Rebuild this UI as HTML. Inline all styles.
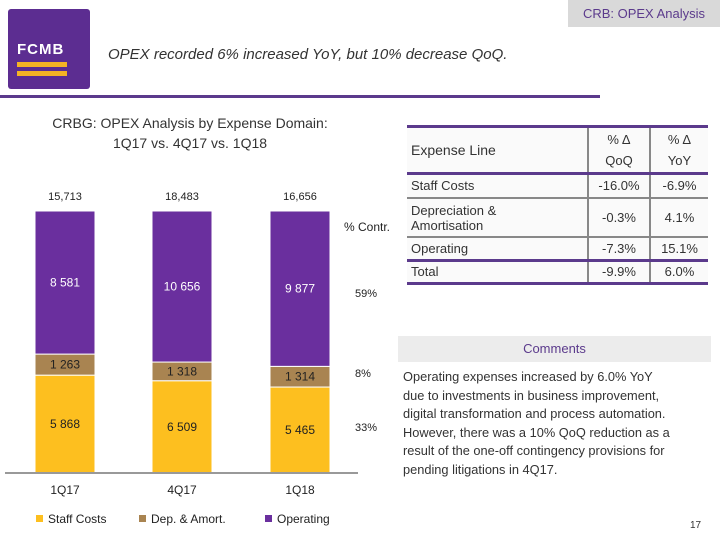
<!DOCTYPE html>
<html><head><meta charset="utf-8"><style>
body{margin:0;width:720px;height:540px;background:#fff;font-family:"Liberation Sans",sans-serif;position:relative;overflow:hidden}
.a{position:absolute}
td{font-size:13px;color:#333;padding:0 4px}
</style></head><body>
<div class="a" style="left:568px;top:0;width:152px;height:27px;background:#d9d9d9;color:#5b3a8c;font-size:13px;line-height:27px;text-align:center">CRB: OPEX Analysis</div>
<div class="a" style="left:8px;top:9px;width:82px;height:80px;background:#5c2d91;border-radius:3px">
 <div class="a" style="left:9px;top:32px;color:#fff;font-weight:bold;font-size:15px;letter-spacing:1px">FCMB</div>
 <div class="a" style="left:9px;top:53px;width:50px;height:5px;background:#f5b324"></div>
 <div class="a" style="left:9px;top:62px;width:50px;height:5px;background:#f5b324"></div>
</div>
<div class="a" style="left:108px;top:46px;font-size:15px;font-style:italic;color:#333">OPEX recorded 6% increased YoY, but 10% decrease QoQ.</div>
<div class="a" style="left:0;top:95px;width:600px;height:3px;background:#5b3a8c"></div>
<div class="a" style="left:20px;top:113px;width:340px;text-align:center;font-size:14px;line-height:20px;color:#333">CRBG:  OPEX Analysis by Expense Domain:<br>1Q17 vs. 4Q17 vs. 1Q18</div>
<svg class="a" style="left:0;top:0" width="720" height="540" id="chart"></svg>
<div class="a" style="left:407px;top:125px;width:301px;height:3px;background:#5b3a8c"></div>
<table class="a" style="left:407px;top:128px;width:301px;border-collapse:collapse;background:#fafafa">
<tr style="height:22px"><td rowspan="2" style="font-size:14px;width:172px">Expense Line</td><td style="border-left:2px solid #888;text-align:center;width:52px">% Δ</td><td style="border-left:2px solid #888;text-align:center">% Δ</td></tr>
<tr style="height:23px"><td style="border-left:2px solid #888;text-align:center">QoQ</td><td style="border-left:2px solid #888;text-align:center">YoY</td></tr>
<tr style="height:25px;border-top:3px solid #5b3a8c"><td>Staff Costs</td><td style="border-left:2px solid #888;text-align:center">-16.0%</td><td style="border-left:2px solid #888;text-align:center">-6.9%</td></tr>
<tr style="height:39px;border-top:2px solid #888"><td>Depreciation &amp;<br>Amortisation</td><td style="border-left:2px solid #888;text-align:center">-0.3%</td><td style="border-left:2px solid #888;text-align:center">4.1%</td></tr>
<tr style="height:23px;border-top:2px solid #888"><td>Operating</td><td style="border-left:2px solid #888;text-align:center">-7.3%</td><td style="border-left:2px solid #888;text-align:center">15.1%</td></tr>
<tr style="height:23px;border-top:3px solid #5b3a8c;border-bottom:3px solid #5b3a8c"><td>Total</td><td style="border-left:2px solid #888;text-align:center">-9.9%</td><td style="border-left:2px solid #888;text-align:center">6.0%</td></tr>
</table>
<div class="a" style="left:398px;top:336px;width:313px;height:26px;background:#ececec;color:#5b3a8c;font-size:13px;line-height:26px;text-align:center">Comments</div>
<div class="a" style="left:403px;top:368px;width:310px;font-size:12.8px;line-height:18.5px;color:#333;white-space:nowrap">Operating expenses increased by 6.0% YoY<br>due to investments in business improvement,<br>digital transformation and process automation.<br>However, there was a 10% QoQ reduction as a<br>result of the one-off contingency provisions for<br>pending litigations in 4Q17.</div>
<div class="a" style="left:690px;top:520px;font-size:10px;color:#333">17</div>
<script>
const categories=["1Q17","4Q17","1Q18"];
const staff=[5868,6509,5465];
const dep=[1263,1318,1314];
const operating=[8581,10656,9877];
const totals=["15,713","18,483","16,656"];
const contr=["33%","8%","59%"];
const svg=document.getElementById('chart');const NS="http://www.w3.org/2000/svg";
const x0=[35,152,270],bw=60,base=473,topY=211,H=base-topY;
function el(t,a,txt){const e=document.createElementNS(NS,t);for(const k in a)e.setAttribute(k,a[k]);if(txt!==undefined)e.textContent=txt;svg.appendChild(e);return e;}
const series=[[staff,"#fdbf1f","#222","staff"],[dep,"#a98451","#222","dep"],[operating,"#6a2f9e","#fff","operating"]];
categories.forEach((c,i)=>{
 const tot=staff[i]+dep[i]+operating[i];let y=base;
 series.forEach(s=>{const h=s[0][i]/tot*H;
  const r=el('rect',{x:x0[i],y:y-h,width:bw,height:h,fill:s[1],stroke:'#fff','stroke-width':1});
  
  
  const t=el('text',{x:x0[i]+bw/2,y:y-h/2+4,'text-anchor':'middle','font-size':12,fill:s[2]},s[0][i].toLocaleString('en-US').replace(',',' '));
  
  
  y-=h;});
 const tl=el('text',{x:x0[i]+bw/2,y:200,'text-anchor':'middle','font-size':11,fill:'#222'},totals[i]);
 
 
 const xl=el('text',{x:x0[i]+bw/2,y:494,'text-anchor':'middle','font-size':12,fill:'#222'},c);
 
 
});
const ax=el('line',{x1:5,x2:358,y1:base,y2:base,stroke:'#999','stroke-width':2});


const ct=el('text',{x:344,y:231,'font-size':12,fill:'#222'},"% Contr.");


[[contr[0],431],[contr[1],377],[contr[2],297]].forEach(p=>{const t=el('text',{x:355,y:p[1],'font-size':11,fill:'#222'},p[0]);
 
 });
[["Staff Costs","#fdbf1f",36],["Dep. & Amort.","#a98451",139],["Operating","#6a2f9e",265]].forEach(l=>{
 const r=el('rect',{x:l[2],y:515,width:7,height:7,fill:l[1]});
 
 
 const t=el('text',{x:l[2]+12,y:523,'font-size':12,fill:'#222'},l[0]);
 
 });
</script>
</body></html>
